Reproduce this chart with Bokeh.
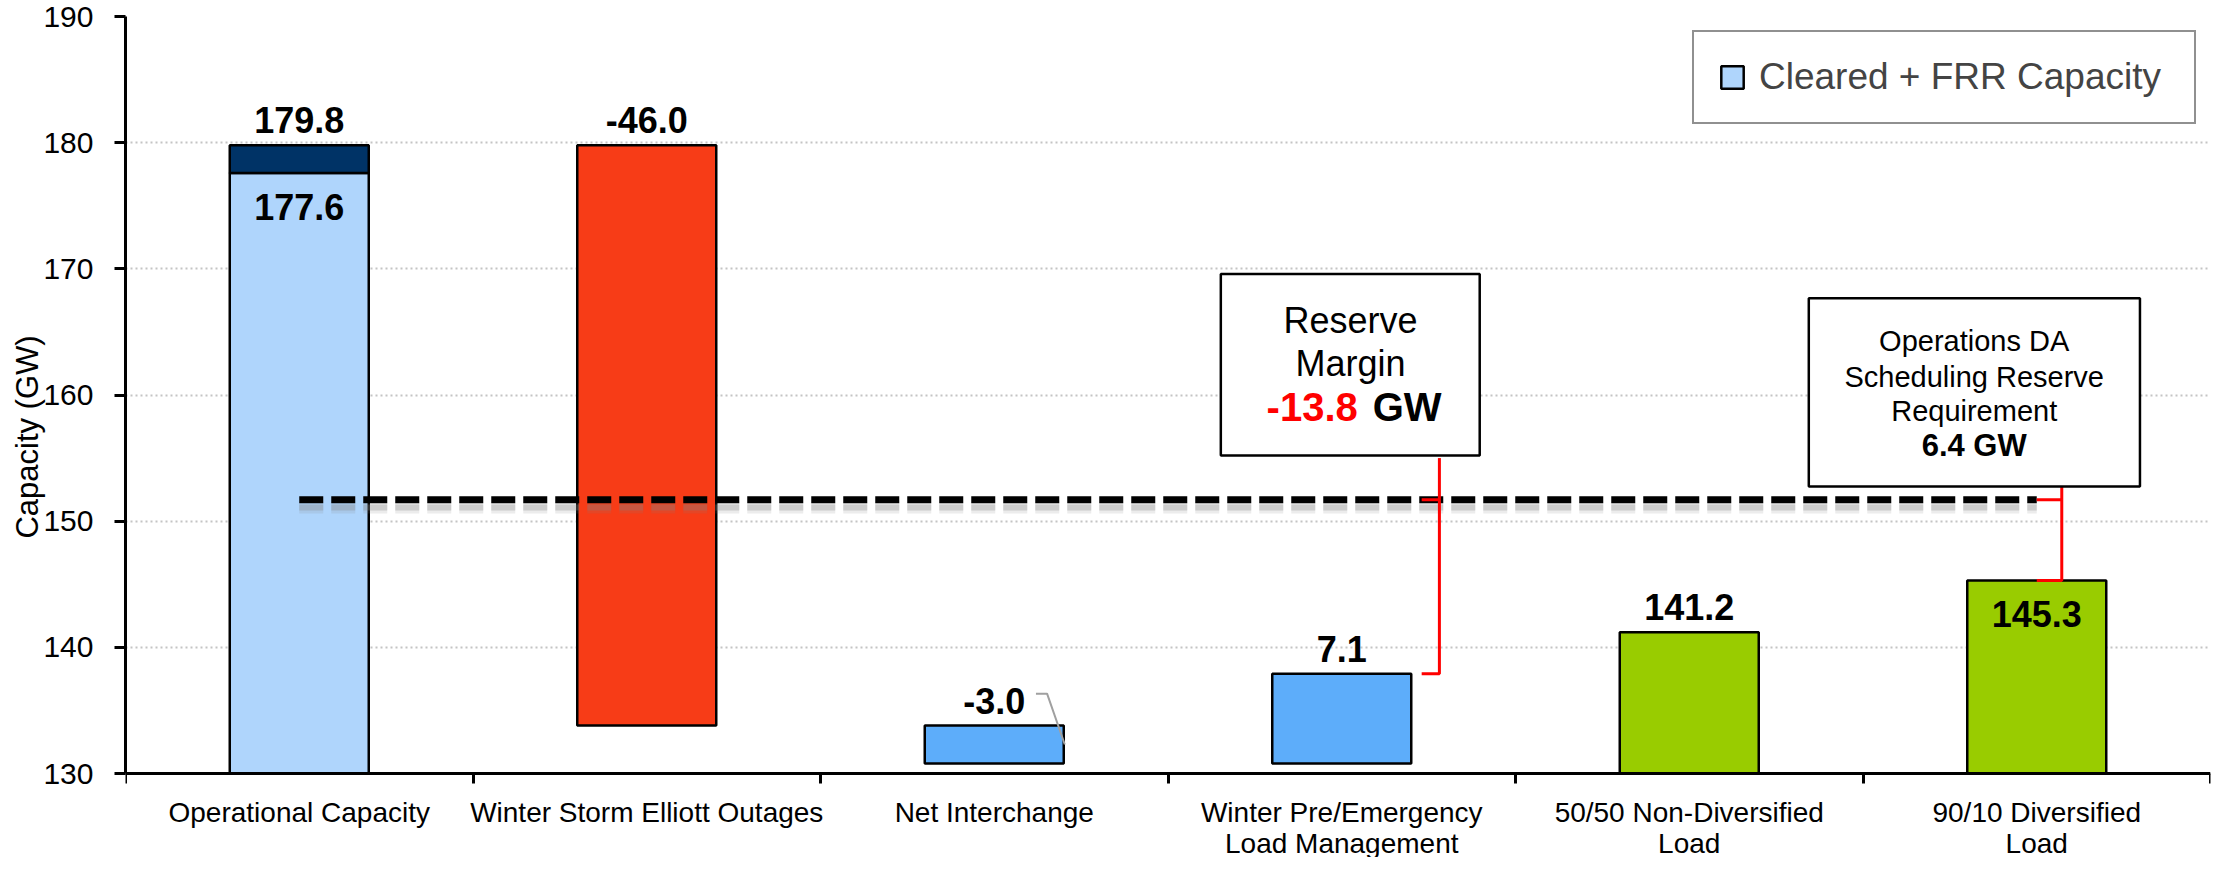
from bokeh.plotting import figure
from bokeh.models import Range1d, FixedTicker, Legend, LegendItem
from bokeh.core.properties import value
from bokeh.embed import file_html
from bokeh.resources import INLINE

# ---------------- data ----------------
categories = [
    "Operational Capacity",
    "Winter Storm Elliott Outages",
    "Net Interchange",
    "Winter Pre/Emergency\nLoad Management",
    "50/50 Non-Diversified\nLoad",
    "90/10 Diversified\nLoad",
]
operational_capacity = 179.8
cleared_frr_capacity = 177.6
winter_storm_outages = -46.0
net_interchange = -3.0
load_management = 7.1
load_5050 = 141.2
load_9010 = 145.3
reserve_requirement = 6.4
reserve_margin = -13.8
y_ticks = [130, 140, 150, 160, 170, 180, 190]
legend_label = "Cleared + FRR Capacity"

# ---------------- derived waterfall levels ----------------
after_storm = round(operational_capacity + winter_storm_outages, 1)
after_ni = round(after_storm + net_interchange, 1)
after_lm = round(after_ni + load_management, 1)
threshold = round(load_9010 + reserve_requirement, 1)
xs = [i + 0.5 for i in range(len(categories))]
y_floor = y_ticks[0]
y_top = y_ticks[-1]

SANS = "'Liberation Sans', Arial, sans-serif"

LIGHT = "#AFD5FC"
NAVY = "#003366"
RED = "#F73C17"
BLUE = "#5DADFA"
GREEN = "#99CC00"

# layout: value axis spans 757 px; the frame continues 84 px below the x axis
FIG_H, TOP, AXIS_PX, BELOW_PX = 857, 16, 757, 84
px_per_unit = AXIS_PX / (y_top - y_floor)
y_lo = y_floor - BELOW_PX / px_per_unit

p = figure(width=2213, height=FIG_H, output_backend="svg", toolbar_location=None,
           x_range=Range1d(0, 6), y_range=Range1d(y_lo, y_top),
           min_border_left=125, min_border_right=3, min_border_top=TOP, min_border_bottom=0)
p.outline_line_color = None
p.background_fill_color = "white"

# axes
p.yaxis.ticker = FixedTicker(ticks=y_ticks)
p.yaxis.bounds = (y_floor, y_top)
p.yaxis.axis_label = "Capacity (GW)"
p.yaxis.axis_label_text_font = SANS
p.yaxis.axis_label_text_font_size = "31px"
p.yaxis.axis_label_text_font_style = "normal"
p.yaxis.axis_label_text_color = "black"
p.yaxis.axis_label_standoff = -5
p.yaxis.major_label_text_font = SANS
p.yaxis.major_label_text_font_size = "30px"
p.yaxis.major_label_text_color = "black"
p.yaxis.major_label_standoff = 21
p.yaxis.major_tick_out = 11
p.yaxis.major_tick_in = 0
p.yaxis.major_tick_line_width = 3
p.yaxis.minor_tick_line_color = None
p.yaxis.axis_line_width = 3

p.xaxis.fixed_location = y_floor
p.xaxis.ticker = FixedTicker(ticks=xs, minor_ticks=list(range(len(categories) + 1)))
p.xaxis.major_label_overrides = {x: c for x, c in zip(xs, categories)}
p.xaxis.major_label_text_font = SANS
p.xaxis.major_label_text_font_size = "28px"
p.xaxis.major_label_text_color = "black"
p.xaxis.major_label_text_line_height = 1.0
p.xaxis.major_label_standoff = 13
p.xaxis.major_tick_out = 0
p.xaxis.major_tick_in = 0
p.xaxis.minor_tick_out = 10
p.xaxis.minor_tick_in = 0
p.xaxis.minor_tick_line_width = 3
p.xaxis.minor_tick_line_color = "black"
p.xaxis.axis_line_width = 3

p.xgrid.visible = False
p.ygrid.ticker = FixedTicker(ticks=y_ticks)
p.ygrid.grid_line_color = "#C4C4C4"
p.ygrid.grid_line_width = 2
p.ygrid.grid_line_dash = "2 3"

W = 0.4
# bars
r_light = p.vbar(x=[xs[0]], bottom=[y_floor], top=[cleared_frr_capacity], width=W,
                 fill_color=LIGHT, line_color="black", line_width=2.5)
p.vbar(x=[xs[0]], bottom=[cleared_frr_capacity], top=[operational_capacity], width=W,
       fill_color=NAVY, line_color="black", line_width=2.5)
p.vbar(x=[xs[1]], bottom=[after_storm], top=[operational_capacity], width=W,
       fill_color=RED, line_color="black", line_width=2.5)
p.vbar(x=[xs[2], xs[3]], bottom=[after_ni, after_ni], top=[after_storm, after_lm], width=W,
       fill_color=BLUE, line_color="black", line_width=2.5)
p.vbar(x=[xs[4], xs[5]], bottom=[y_floor, y_floor], top=[load_5050, load_9010], width=W,
       fill_color=GREEN, line_color="black", line_width=2.5)

# threshold dashed line with soft shadow
tx = [xs[0], xs[5]]
p.line(tx, [threshold - 0.62] * 2, line_color="#808080", line_alpha=0.15, line_width=12,
       line_dash="24 8")
p.line(tx, [threshold - 0.62] * 2, line_color="#808080", line_alpha=0.3, line_width=6,
       line_dash="24 8")
p.line(tx, [threshold] * 2, line_color="black", line_width=7, line_dash="24 8")

# red brackets
br_x1 = 3.781
p.line([3.73, br_x1, br_x1, 3.73], [threshold, threshold, after_lm, after_lm],
       line_color="red", line_width=3)
p.line([br_x1, br_x1], [155.0, threshold], line_color="red", line_width=3)
br_x2 = 5.572
p.line([xs[5], br_x2, br_x2, xs[5]], [threshold, threshold, load_9010, load_9010],
       line_color="red", line_width=3)
p.line([br_x2, br_x2], [152.75, threshold], line_color="red", line_width=3)

# leader for -3.0
p.line([2.620, 2.652, 2.703], [136.33, 136.33, 132.3], line_color="#A0A0A0", line_width=2)

# bar value labels (above)
above_x = [xs[0], xs[1], xs[2], xs[3], xs[4]]
above_y = [operational_capacity, operational_capacity, after_storm, after_lm, load_5050]
above_t = [f"{operational_capacity:.1f}", f"{winter_storm_outages:.1f}", f"{net_interchange:.1f}",
           f"{load_management:.1f}", f"{load_5050:.1f}"]
p.text(x=above_x, y=above_y, text=above_t, y_offset=-25, text_align="center",
       text_baseline="alphabetic", text_font=value(SANS), text_font_size="36px",
       text_font_style="bold", text_color="black")
# inside labels
p.text(x=[xs[0], xs[5]], y=[cleared_frr_capacity, load_9010],
       text=[f"{cleared_frr_capacity:.1f}", f"{load_9010:.1f}"], y_offset=34,
       text_align="center", text_baseline="alphabetic", text_font=value(SANS),
       text_font_size="36px", text_font_style="bold", text_color="black")

# annotation boxes
p.quad(left=[3.152, 4.844], right=[3.897, 5.797], top=[169.6, 167.66], bottom=[155.2, 152.75],
       fill_color="white", line_color="black", line_width=2.5)

rx = 3.525
p.text(x=[rx, rx], y=[165.92, 162.53], text=["Reserve", "Margin"], text_align="center",
       text_baseline="alphabetic", text_font=value(SANS), text_font_size="36px",
       text_color="black")
p.text(x=[3.546], y=[159.05], text=[f"{reserve_margin:.1f}"], text_align="right",
       text_baseline="alphabetic", text_font=value(SANS), text_font_size="40px",
       text_font_style="bold", text_color="#FF0000")
p.text(x=[3.589], y=[159.05], text=["GW"], text_align="left",
       text_baseline="alphabetic", text_font=value(SANS), text_font_size="40px",
       text_font_style="bold", text_color="black")

ox = 5.320
p.text(x=[ox, ox, ox], y=[164.26, 161.42, 158.74],
       text=["Operations DA", "Scheduling Reserve", "Requirement"], text_align="center",
       text_baseline="alphabetic", text_font=value(SANS), text_font_size="29px",
       text_color="black")
p.text(x=[ox], y=[155.97], text=[f"{reserve_requirement:.1f} GW"], text_align="center",
       text_baseline="alphabetic", text_font=value(SANS), text_font_size="31px",
       text_font_style="bold", text_color="black")

# legend
legend = Legend(items=[LegendItem(label=legend_label, renderers=[r_light])],
                location="top_right", margin=14, padding=24,
                glyph_width=28, glyph_height=28, label_standoff=13, label_width=411,
                label_text_font=SANS, label_text_font_size="37px",
                border_line_color="#222222", border_line_width=2.5,
                background_fill_color="white", background_fill_alpha=1.0)
p.add_layout(legend)

open("out.html", "w").write(file_html(p, INLINE))
